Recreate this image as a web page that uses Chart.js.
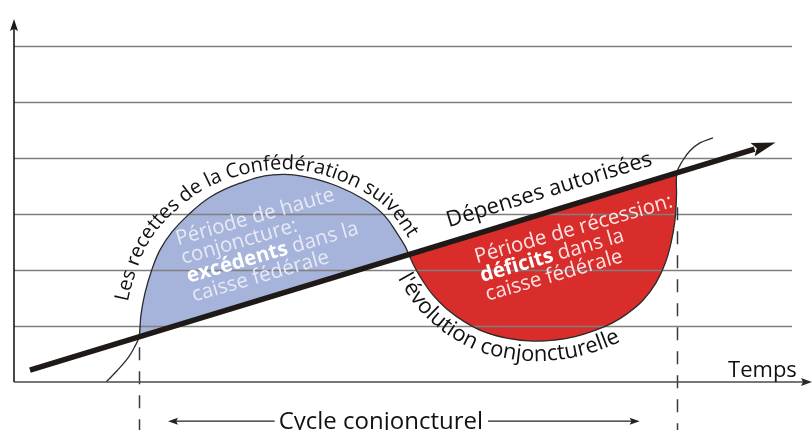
<!DOCTYPE html>
<html><head><meta charset="utf-8">
<style>html,body{margin:0;padding:0;background:#fff;}canvas{display:block;}</style>
<script src="https://cdn.jsdelivr.net/npm/chart.js@4.4.1/dist/chart.umd.min.js"></script>
</head><body>
<canvas id="c" width="812" height="430"></canvas>
<script>
// ---- data (time on x, amount on y) ----
const gridLevels = [1, 2, 3, 4, 5, 6];
const spendingX = [2.0, 92.8];
const spendingY = [0.21, 4.16];
const revenueX = [11.53, 12.91, 14.29, 15.16, 15.66, 15.91, 16.42, 17.26, 18.30, 19.80, 21.80, 24.56, 28.32, 32.46, 36.72, 40.48, 43.98, 46.37, 47.99, 48.99, 49.50, 50.25, 51.25, 52.51, 54.26, 56.52, 59.02, 61.90, 65.04, 67.79, 70.30, 72.81, 74.94, 76.94, 78.82, 80.45, 81.58, 82.33, 82.83, 83.02, 83.08, 83.83, 84.71, 85.96, 87.59];
const revenueY = [0.00, 0.20, 0.43, 0.64, 0.80, 1.20, 1.59, 2.00, 2.36, 2.68, 2.98, 3.30, 3.55, 3.70, 3.66, 3.50, 3.25, 2.98, 2.66, 2.43, 2.27, 2.04, 1.80, 1.55, 1.30, 1.07, 0.89, 0.78, 0.73, 0.75, 0.81, 0.92, 1.05, 1.23, 1.46, 1.77, 2.11, 2.48, 2.89, 3.32, 3.74, 3.96, 4.13, 4.27, 4.36];
const cycleBounds = [15.66, 83.08];
const cycleDashTop = [0.62, 3.12];
const cycleArrowX = [19.3, 78.4];

const txtRevenue = 'Les recettes de la Confédération suivent';
const txtEvolution = "l'évolution conjoncturelle";
const txtSpending = 'Dépenses autorisées';
const txtTime = 'Temps';
const txtCycle = 'Cycle conjoncturel';
const txtHigh = [[['Période de haute', 400]], [['conjoncture:', 400]], [['excédents', 700], [' dans la', 400]], [['caisse fédérale', 400]]];
const txtLow = [[['Période de récession:', 400]], [['déficits', 700], [' dans la', 400]], [['caisse fédérale', 400]]];

const FONT = '"Open Sans", "DejaVu Sans", sans-serif';
const BLUE = '#a6b3da', RED = '#d92d2b', INK = '#1f1a17';

const toPts = (xs, ys) => xs.map((x, i) => ({x, y: ys[i]}));
const lobeIdx = revenueX.map((x, i) => i).filter(i => revenueX[i] >= cycleBounds[0] && revenueX[i] <= cycleBounds[1]);
const lobeX = lobeIdx.map(i => revenueX[i]);
const lobeY = lobeIdx.map(i => revenueY[i]);

// ---- helpers ----
function bezierPolyline(meta) {
  const p = meta.data, out = [];
  for (let i = 0; i < p.length - 1; i++) {
    const a = p[i], b = p[i + 1];
    const c1x = a.cp2x ?? a.x, c1y = a.cp2y ?? a.y, c2x = b.cp1x ?? b.x, c2y = b.cp1y ?? b.y;
    const n = 30;
    for (let k = 0; k < n; k++) {
      const t = k / n, u = 1 - t;
      out.push({
        x: u*u*u*a.x + 3*u*u*t*c1x + 3*u*t*t*c2x + t*t*t*b.x,
        y: u*u*u*a.y + 3*u*u*t*c1y + 3*u*t*t*c2y + t*t*t*b.y
      });
    }
  }
  const l = p[p.length - 1];
  out.push({x: l.x, y: l.y});
  return out;
}
function interpTable(tab, v) {
  if (v <= tab[0][0]) return tab[0][1];
  for (let i = 1; i < tab.length; i++) {
    if (v <= tab[i][0]) {
      const f = (v - tab[i-1][0]) / (tab[i][0] - tab[i-1][0]);
      return tab[i-1][1] + f * (tab[i][1] - tab[i-1][1]);
    }
  }
  return tab[tab.length - 1][1];
}
function offsetPath(poly, offFn) {
  const out = [];
  for (let i = 0; i < poly.length; i++) {
    const a = poly[Math.max(0, i - 2)], b = poly[Math.min(poly.length - 1, i + 2)];
    let tx = b.x - a.x, ty = b.y - a.y;
    const L = Math.hypot(tx, ty) || 1; tx /= L; ty /= L;
    const o = offFn(poly[i].x);
    out.push({x: poly[i].x + ty * o, y: poly[i].y - tx * o});
  }
  return out;
}
function cumLen(path) {
  const c = [0];
  for (let i = 1; i < path.length; i++) c.push(c[i-1] + Math.hypot(path[i].x - path[i-1].x, path[i].y - path[i-1].y));
  return c;
}
function pointAt(path, cum, s) {
  if (s <= 0) return path[0];
  for (let i = 1; i < path.length; i++) {
    if (cum[i] >= s) {
      const seg = cum[i] - cum[i-1] || 1, f = (s - cum[i-1]) / seg;
      return {x: path[i-1].x + f * (path[i].x - path[i-1].x), y: path[i-1].y + f * (path[i].y - path[i-1].y)};
    }
  }
  return path[path.length - 1];
}
function textOnPath(ctx, path, text, font, anchorPx, color) {
  const cum = cumLen(path);
  let best = 0, bd = Infinity;
  path.forEach((p, i) => { const d = Math.abs(p.x - anchorPx); if (d < bd) { bd = d; best = i; } });
  ctx.save();
  ctx.font = font; ctx.fillStyle = color; ctx.textAlign = 'center'; ctx.textBaseline = 'alphabetic';
  const chars = [...text];
  const widths = chars.map(c => ctx.measureText(c).width);
  const total = widths.reduce((a, b) => a + b, 0);
  let s = cum[best] - total / 2;
  chars.forEach((c, i) => {
    const mid = s + widths[i] / 2;
    const p = pointAt(path, cum, mid);
    const p1 = pointAt(path, cum, mid - 5), p2 = pointAt(path, cum, mid + 5);
    const ang = Math.atan2(p2.y - p1.y, p2.x - p1.x);
    ctx.save(); ctx.translate(p.x, p.y); ctx.rotate(ang); ctx.fillText(c, 0, 0); ctx.restore();
    s += widths[i];
  });
  ctx.restore();
}
function textBlock(ctx, x, y, ang, lines, size, lh, color, boldColor) {
  ctx.save(); ctx.translate(x, y); ctx.rotate(ang);
  ctx.textAlign = 'left'; ctx.textBaseline = 'alphabetic';
  lines.forEach((runs, i) => {
    let cx = 0;
    runs.forEach(([t, w]) => {
      ctx.font = `${w} ${size}px ${FONT}`;
      ctx.fillStyle = w >= 700 ? boldColor : color;
      ctx.fillText(t, cx, i * lh);
      cx += ctx.measureText(t).width;
    });
  });
  ctx.restore();
}
function arrowHead(ctx, tx, ty, ang, len, half, color) {
  ctx.save(); ctx.translate(tx, ty); ctx.rotate(ang);
  ctx.beginPath(); ctx.moveTo(0, 0); ctx.lineTo(-len, -half); ctx.lineTo(-len * 0.82, 0); ctx.lineTo(-len, half); ctx.closePath();
  ctx.fillStyle = color; ctx.fill(); ctx.restore();
}

const diagram = {
  id: 'diagram',
  afterDatasetDraw(chart, args) {
    if (args.index !== 0) return;
    const {ctx, scales: {x, y}} = chart;
    ctx.save();
    ctx.strokeStyle = '#7f7f7f'; ctx.lineWidth = 1.7;
    gridLevels.forEach(v => {
      const py = Math.round(y.getPixelForValue(v)) + 0.5;
      ctx.beginPath(); ctx.moveTo(x.getPixelForValue(0), py); ctx.lineTo(x.getPixelForValue(97.5), py); ctx.stroke();
    });
    ctx.strokeStyle = '#3a3a3a'; ctx.lineWidth = 1.5; ctx.setLineDash([13, 11]);
    cycleBounds.forEach((b, i) => {
      const px = Math.round(x.getPixelForValue(b)) + 0.5;
      ctx.beginPath(); ctx.moveTo(px, y.getPixelForValue(cycleDashTop[i])); ctx.lineTo(px, chart.height); ctx.stroke();
    });
    ctx.restore();
  },
  afterDatasetsDraw(chart) {
    const {ctx, scales: {x, y}} = chart;
    const ca = chart.chartArea;
    ctx.save();
    const ox = x.getPixelForValue(0), oy = y.getPixelForValue(0);
    ctx.strokeStyle = '#4a4a4a'; ctx.lineWidth = 1.6;
    ctx.beginPath(); ctx.moveTo(ox, oy); ctx.lineTo(ca.right - 6, oy); ctx.stroke();
    arrowHead(ctx, ca.right, oy, 0, 11, 4, '#2a2a2a');
    ctx.strokeStyle = '#1a1a1a';
    ctx.beginPath(); ctx.moveTo(ox, oy); ctx.lineTo(ox, ca.top + 6); ctx.stroke();
    arrowHead(ctx, ox, ca.top + 1, -Math.PI / 2, 12, 4, '#1a1a1a');

    const s0x = x.getPixelForValue(spendingX[0]), s0y = y.getPixelForValue(spendingY[0]);
    const s1x = x.getPixelForValue(spendingX[1]), s1y = y.getPixelForValue(spendingY[1]);
    const ang = Math.atan2(s1y - s0y, s1x - s0x);
    arrowHead(ctx, s1x + 22 * Math.cos(ang), s1y + 22 * Math.sin(ang), ang, 24, 7, INK);

    const poly = bezierPolyline(chart.getDatasetMeta(1));
    const upTab = [[16, 15], [32, 5], [48.5, 7]].map(([v, o]) => [x.getPixelForValue(v), o]);
    const upper = offsetPath(poly, px => interpTable(upTab, px));
    textOnPath(ctx, upper, txtRevenue, `400 20px ${FONT}`, x.getPixelForValue(29.2), '#111');
    const lower = offsetPath(poly, () => -20);
    textOnPath(ctx, lower, txtEvolution, `400 22px ${FONT}`, x.getPixelForValue(60.3), '#111');

    ctx.save();
    ctx.translate(x.getPixelForValue(67.3), y.getPixelForValue(3.32)); ctx.rotate(ang);
    ctx.font = `400 22px ${FONT}`; ctx.fillStyle = '#111'; ctx.textAlign = 'center'; ctx.textBaseline = 'alphabetic';
    ctx.fillText(txtSpending, 0, 0);
    ctx.restore();

    const la = -16 * Math.PI / 180;
    textBlock(ctx, x.getPixelForValue(20.55), y.getPixelForValue(2.44), la, txtHigh, 20.5, 19.5, '#e6eaf5', '#ffffff');
    textBlock(ctx, x.getPixelForValue(58.0), y.getPixelForValue(2.12), la, txtLow, 20.5, 19.5, '#fbe4e4', '#ffffff');

    ctx.font = `400 22px ${FONT}`; ctx.fillStyle = '#111'; ctx.textAlign = 'right'; ctx.textBaseline = 'alphabetic';
    ctx.fillText(txtTime, x.getPixelForValue(98.1), y.getPixelForValue(0.09));

    const cy = y.getPixelForValue(-0.70);
    const cx = (x.getPixelForValue(cycleArrowX[0]) + x.getPixelForValue(cycleArrowX[1])) / 2 - 23;
    ctx.font = `400 24px ${FONT}`; ctx.textAlign = 'center'; ctx.fillStyle = '#111';
    ctx.fillText(txtCycle, cx, cy + 8);
    const w = ctx.measureText(txtCycle).width;
    const aL = x.getPixelForValue(cycleArrowX[0]), aR = x.getPixelForValue(cycleArrowX[1]);
    ctx.strokeStyle = '#222'; ctx.lineWidth = 1.3;
    ctx.beginPath(); ctx.moveTo(cx - w / 2 - 4, cy); ctx.lineTo(aL + 6, cy); ctx.stroke();
    ctx.beginPath(); ctx.moveTo(cx + w / 2 + 5, cy); ctx.lineTo(aR - 6, cy); ctx.stroke();
    arrowHead(ctx, aL, cy, Math.PI, 10, 3.5, '#222');
    arrowHead(ctx, aR, cy, 0, 10, 3.5, '#222');
    ctx.restore();
  }
};

new Chart(document.getElementById('c'), {
  type: 'line',
  data: {
    datasets: [
      {
        label: 'lobes', data: toPts(lobeX, lobeY), order: 3,
        borderWidth: 0, borderColor: 'rgba(0,0,0,0)', pointRadius: 0, tension: 0.4,
        fill: {target: 2, above: BLUE, below: RED}
      },
      {
        label: 'Recettes', data: toPts(revenueX, revenueY), order: 2,
        borderWidth: 1.3, borderColor: '#2b2b2b', pointRadius: 0, fill: false, tension: 0.4
      },
      {
        label: 'Dépenses', data: toPts(spendingX, spendingY), order: 1,
        borderWidth: 5.5, borderColor: INK, borderCapStyle: 'butt', pointRadius: 0, fill: false, tension: 0
      }
    ]
  },
  options: {
    responsive: false, animation: false, devicePixelRatio: 1,
    layout: {padding: {left: 14, right: 0, top: 18, bottom: 48}},
    scales: {
      x: {type: 'linear', min: 0, max: 100, display: false},
      y: {type: 'linear', min: 0, max: 6.5, display: false}
    },
    plugins: {legend: {display: false}, tooltip: {enabled: false}},
    elements: {line: {capBezierPoints: false}}
  },
  plugins: [diagram]
});
</script>
</body></html>
